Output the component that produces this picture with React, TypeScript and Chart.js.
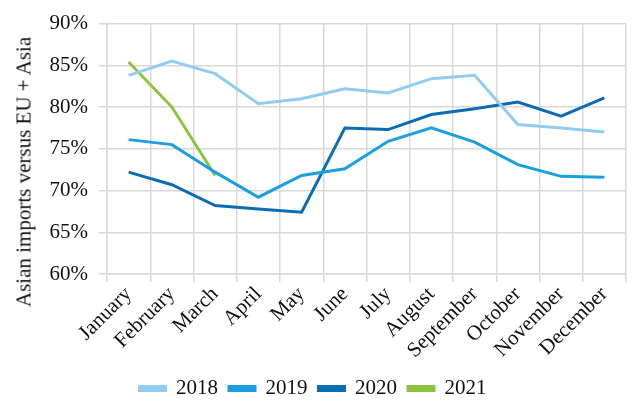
import React, { useEffect, useRef } from "react";
import { Chart, registerables } from "chart.js";

Chart.register(...registerables);

const months = ["January", "February", "March", "April", "May", "June", "July", "August", "September", "October", "November", "December"];
const s2018 = [83.8, 85.5, 84.0, 80.4, 81.0, 82.2, 81.7, 83.4, 83.8, 77.9, 77.5, 77.0];
const s2019 = [76.1, 75.5, 72.2, 69.2, 71.8, 72.6, 75.9, 77.5, 75.8, 73.1, 71.7, 71.6];
const s2020 = [72.2, 70.7, 68.2, 67.8, 67.4, 77.5, 77.3, 79.1, 79.8, 80.6, 78.9, 81.1];
const s2021 = [85.4, 80.0, 71.8];
const seriesNames = ["2018", "2019", "2020", "2021"];
const colors = ["#92CDF1", "#1AA0E0", "#0A6DB3", "#8CC43E"];
const yTitle = "Asian imports versus EU + Asia";

const font = "'Liberation Serif', 'DejaVu Serif', serif";

export default function App() {
  const ref = useRef<HTMLCanvasElement>(null);
  useEffect(() => {
    document.body.style.margin = "0";
    const data = [s2018, s2019, s2020, s2021];
    const chart = new Chart(ref.current!, {
      type: "line",
      data: {
        labels: months,
        datasets: data.map((d, i) => ({
          label: seriesNames[i],
          data: d,
          borderColor: colors[i],
          backgroundColor: colors[i],
          borderWidth: 3,
          pointRadius: 0,
          tension: 0,
        })),
      },
      options: {
        animation: false,
        responsive: false,
        layout: { padding: { top: 22, right: 17, left: 0, bottom: 4 } },
        plugins: {
          legend: {
            position: "bottom",
            labels: {
              font: { family: font, size: 21 },
              color: "#111",
              boxWidth: 26,
              boxHeight: 4,
              padding: 11,
            },
          },
          tooltip: { enabled: false },
        },
        scales: {
          x: {
            offset: true,
            grid: { offset: true, color: "#d9d9d9", lineWidth: 1.5 },
            border: { color: "#d9d9d9", width: 1.5 },
            afterFit: (s: any) => { s.height = 93; },
            ticks: {
              autoSkip: false,
              maxRotation: 45,
              minRotation: 45,
              font: { family: font, size: 21 },
              color: "#111",
              padding: 0,
            },
          },
          y: {
            min: 60,
            max: 90,
            afterFit: (s: any) => { s.width = 107; },
            grid: { color: "#d9d9d9", lineWidth: 1.5 },
            border: { color: "#d9d9d9", width: 1.5 },
            ticks: {
              stepSize: 5,
              font: { family: font, size: 21 },
              color: "#111",
              padding: 11,
              callback: (v: any) => v + "%",
            },
          },
        },
      },
    });
    return () => chart.destroy();
  }, []);
  return (
    <div style={{ position: "relative", width: 643, height: 413 }}>
      <canvas ref={ref} width={643} height={413} style={{ display: "block" }} />
      <div
        style={{
          position: "absolute",
          left: 24,
          top: 172,
          transform: "translate(-50%, -50%) rotate(-90deg)",
          whiteSpace: "nowrap",
          fontFamily: font,
          fontSize: 21,
          color: "#111",
          lineHeight: 1,
        }}
      >
        {yTitle}
      </div>
    </div>
  );
}
